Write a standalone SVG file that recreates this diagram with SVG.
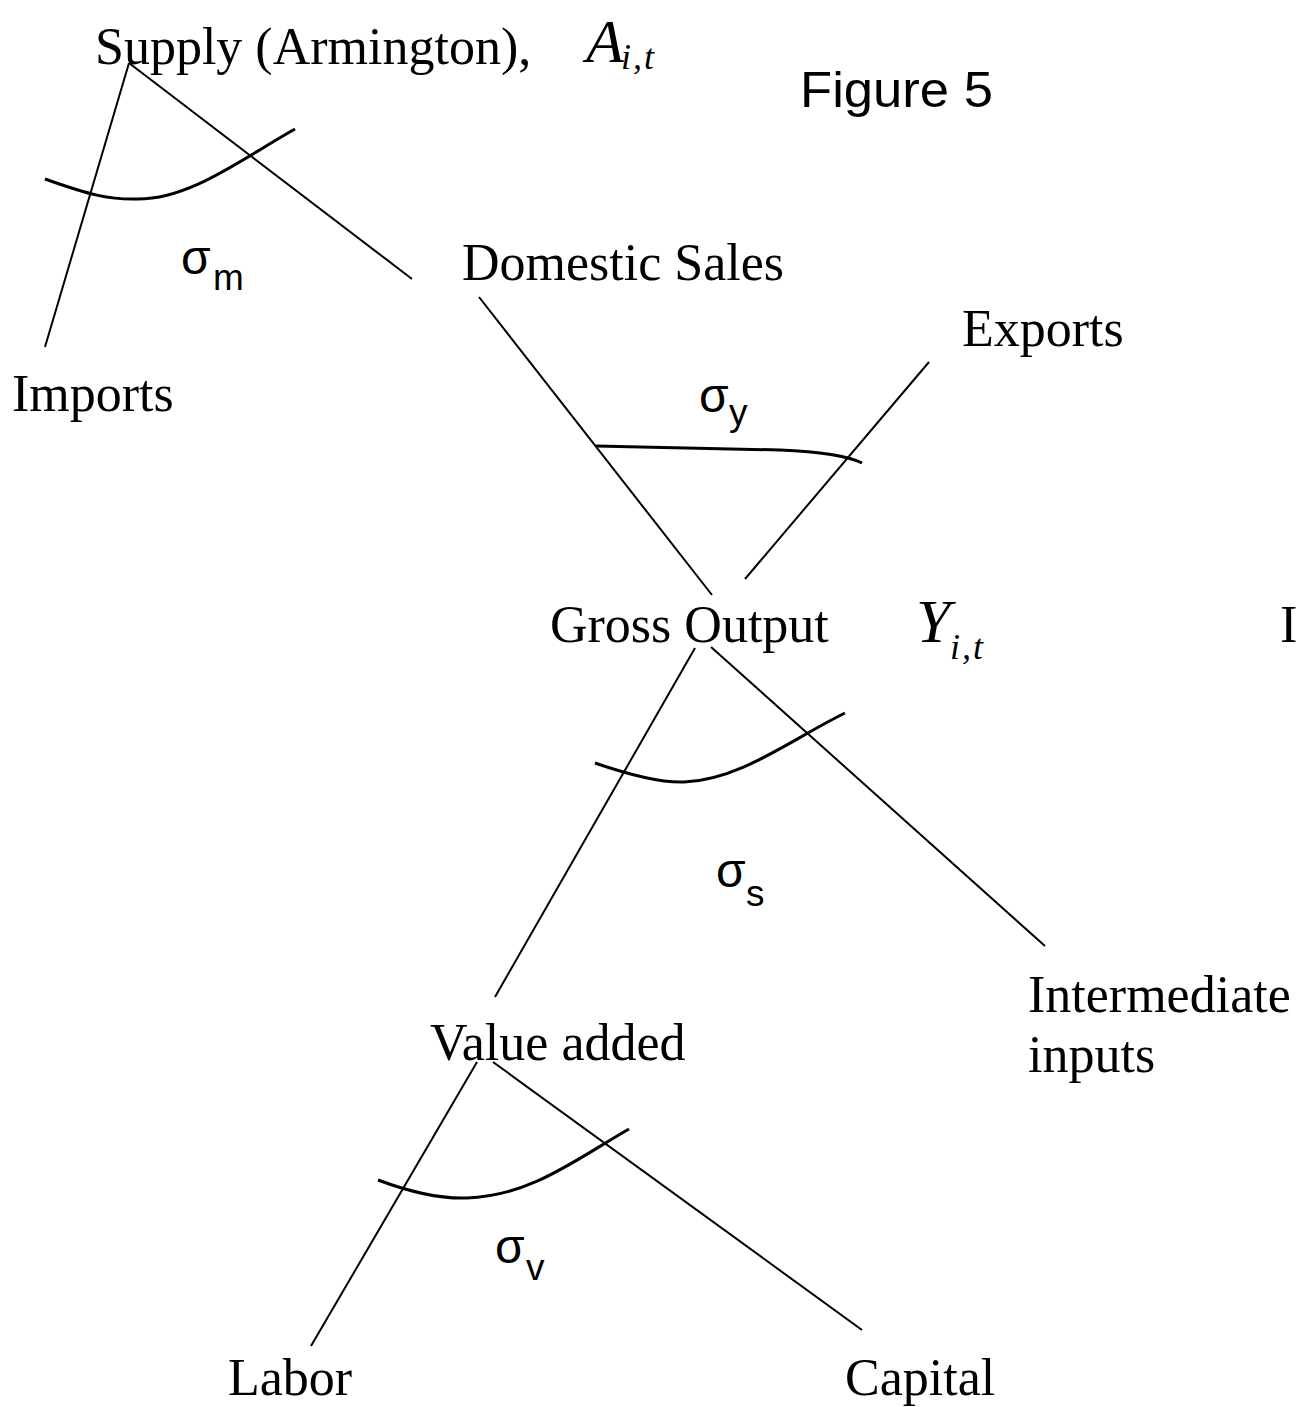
<svg xmlns="http://www.w3.org/2000/svg" width="1300" height="1407" viewBox="0 0 1300 1407">
<style>
.t{font-family:"Liberation Serif","Times New Roman",serif;font-size:52px;fill:#000}
.it{font-family:"Liberation Serif","Times New Roman",serif;font-style:italic;fill:#000}
.s{font-family:"Liberation Sans",Arial,sans-serif;fill:#000}
.sg{font-family:"Liberation Sans",Arial,sans-serif;font-size:48px;fill:#000}
.sb{font-family:"Liberation Sans",Arial,sans-serif;font-size:37px;fill:#000}
.ln{stroke:#000;stroke-width:2;fill:none}
.cv{stroke:#000;stroke-width:3;fill:none}
</style>
<rect width="1300" height="1407" fill="#fff"/>
<g id="connectors">
<line class="ln" x1="129" y1="63" x2="45" y2="347"/>
<line class="ln" x1="129" y1="63" x2="412" y2="279"/>
<path class="cv" d="M45,179 C90,195 110,200 138,199 C190,199 240,160 295,129"/>
<line class="ln" x1="479" y1="297" x2="712" y2="595"/>
<line class="ln" x1="929" y1="362" x2="745" y2="579"/>
<path class="cv" d="M596,446 L780,450 C830,452 850,457 862,463"/>
<line class="ln" x1="695" y1="648" x2="495" y2="997"/>
<line class="ln" x1="711" y1="647" x2="1045" y2="946"/>
<path class="cv" d="M595,763 C630,775 660,783 684,782 C740,780 790,740 845,713"/>
<line class="ln" x1="477" y1="1062" x2="311" y2="1346"/>
<line class="ln" x1="493" y1="1062" x2="862" y2="1330"/>
<path class="cv" d="M378,1180 C410,1192 440,1199 467,1198 C530,1196 575,1160 629,1129"/>
</g>
<g id="supply"><text class="t" x="95" y="64">Supply (Armington),</text>
<text class="it" x="586" y="62" font-size="62">A</text><text class="it" x="621" y="69" font-size="36" letter-spacing="2">i,t</text></g>
<g id="figure-title"><text class="s" x="800" y="107" font-size="50" textLength="193" lengthAdjust="spacingAndGlyphs">Figure 5</text></g>
<g id="imports"><text class="t" x="12" y="411">Imports</text></g>
<g id="sigma-m"><text class="sg" x="181" y="274">σ</text><text class="sb" x="213" y="290">m</text></g>
<g id="domestic-sales"><text class="t" x="462" y="280">Domestic Sales</text></g>
<g id="exports"><text class="t" x="962" y="346">Exports</text></g>
<g id="sigma-y"><text class="sg" x="699" y="412">σ</text><text class="sb" x="729" y="425">y</text></g>
<g id="gross-output"><text class="t" x="550" y="642">Gross Output</text>
<text class="it" x="916" y="642" font-size="62">Y</text><text class="it" x="950" y="659" font-size="36" letter-spacing="2">i,t</text></g>
<g id="stray-i"><text class="t" x="1280" y="642">I</text></g>
<g id="sigma-s"><text class="sg" x="716" y="887">σ</text><text class="sb" x="746" y="906">s</text></g>
<g id="value-added"><text class="t" x="430" y="1060">Value added</text></g>
<g id="intermediate"><text class="t" x="1028" y="1012">Intermediate</text><text class="t" x="1028" y="1072">inputs</text></g>
<g id="sigma-v"><text class="sg" x="495" y="1263">σ</text><text class="sb" x="526" y="1280">v</text></g>
<g id="labor"><text class="t" x="228" y="1395">Labor</text></g>
<g id="capital"><text class="t" x="845" y="1395">Capital</text></g>
</svg>
